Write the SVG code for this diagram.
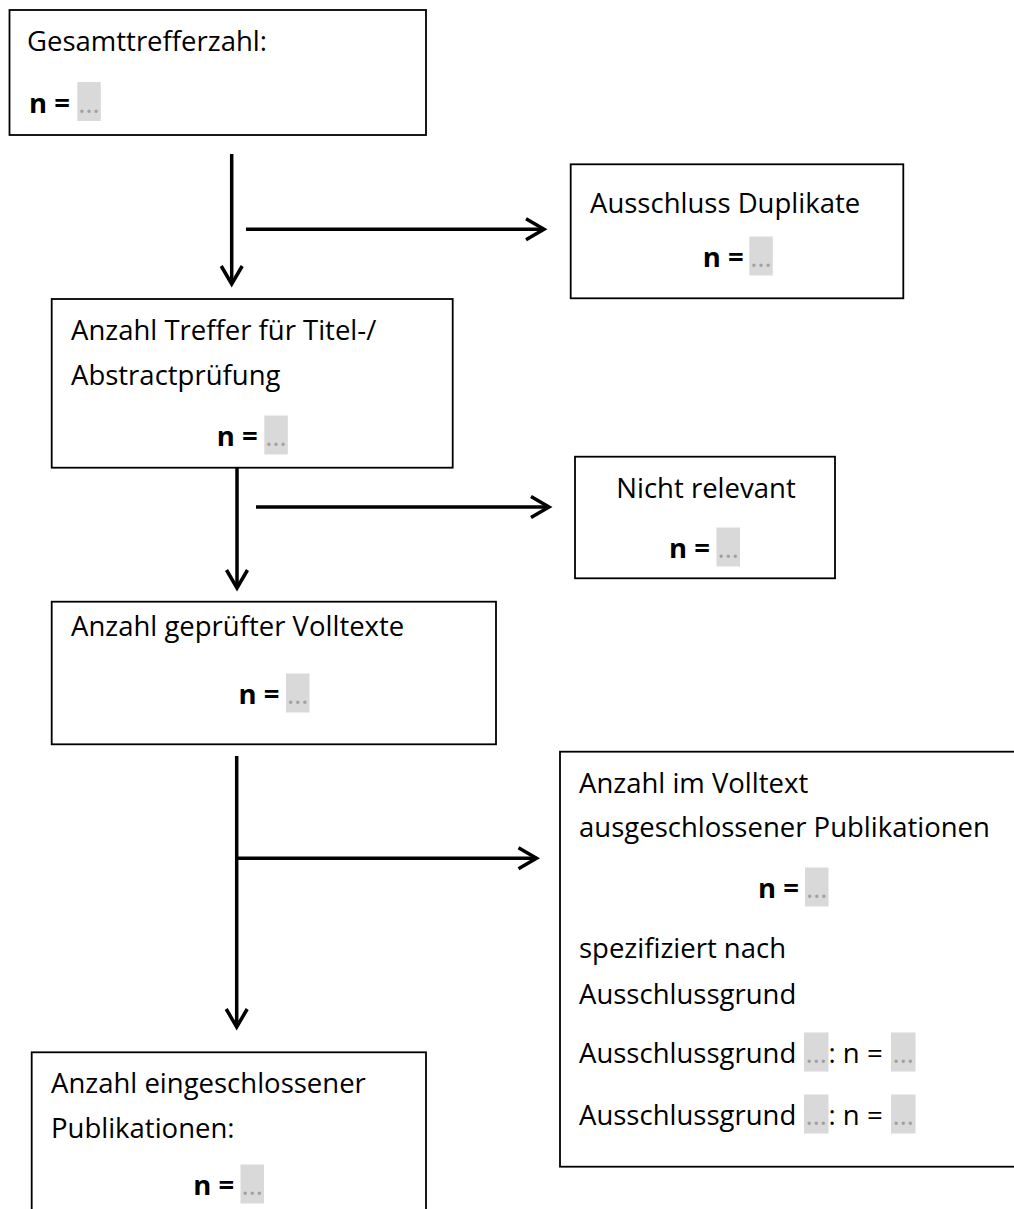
<svg xmlns="http://www.w3.org/2000/svg" width="1014" height="1209" viewBox="0 0 1014 1209">
  <style>
    .box { fill: #ffffff; stroke: #000000; stroke-width: 1.8; }
    .t { font-family: "Open Sans", "Liberation Sans", sans-serif; font-size: 27.5px; fill: #000000; }
    .b { font-weight: bold; }
    .ph { fill: #d9d9d9; }
    .dots { font-family: "Open Sans", "Liberation Sans", sans-serif; font-size: 27.5px; fill: #a0a0a0; text-anchor: middle; }
    .c { text-anchor: middle; }
    .conn line { stroke: #000000; stroke-width: 3.5; fill: none; }
  </style>
  <defs>
    <marker id="ah" markerUnits="userSpaceOnUse" markerWidth="40" markerHeight="40" viewBox="-25 -20 40 40" refX="0" refY="0" orient="auto" overflow="visible">
      <path d="M-18,-10.5 L0,0 L-18,10.5" fill="none" stroke="#000000" stroke-width="3.5" stroke-linejoin="miter"/>
    </marker>
  </defs>

  <rect width="1014" height="1209" fill="#ffffff"/>

  <g id="node-gesamt">
    <rect class="box" x="9.5" y="10" width="416.5" height="125"/>
    <text class="t" x="27" y="51">Gesamttrefferzahl:</text>
    <text class="t b" x="29" y="113">n =</text>
    <rect class="ph" x="77.3" y="82" width="23.5" height="39"/>
    <text class="dots" x="89" y="113">…</text>
  </g>

  <g id="node-duplikate">
    <rect class="box" x="570.7" y="164.3" width="332.6" height="134"/>
    <text class="t" x="590" y="213">Ausschluss Duplikate</text>
    <text class="t b" x="702.7" y="267">n =</text>
    <rect class="ph" x="749.3" y="236.5" width="23.5" height="39"/>
    <text class="dots" x="761" y="267">…</text>
  </g>

  <g id="node-titel">
    <rect class="box" x="51.7" y="299" width="401" height="168.7"/>
    <text class="t" x="71" y="340">Anzahl Treffer für Titel-/</text>
    <text class="t" x="71" y="385">Abstractprüfung</text>
    <text class="t b" x="216.7" y="446">n =</text>
    <rect class="ph" x="264.3" y="415.5" width="23.5" height="39"/>
    <text class="dots" x="276" y="446">…</text>
  </g>

  <g id="node-nicht-relevant">
    <rect class="box" x="575" y="456.7" width="260" height="121.6"/>
    <text class="t c" x="706" y="498">Nicht relevant</text>
    <text class="t b" x="669" y="558">n =</text>
    <rect class="ph" x="716.5" y="527.5" width="23.5" height="39"/>
    <text class="dots" x="728.2" y="558">…</text>
  </g>

  <g id="node-volltexte">
    <rect class="box" x="51.7" y="601.7" width="444.3" height="142.6"/>
    <text class="t" x="71" y="636">Anzahl geprüfter Volltexte</text>
    <text class="t b" x="238.5" y="704">n =</text>
    <rect class="ph" x="286" y="673.5" width="23.5" height="39"/>
    <text class="dots" x="297.7" y="704">…</text>
  </g>

  <g id="node-ausgeschlossen">
    <rect class="box" x="560" y="751.7" width="470" height="415"/>
    <text class="t" x="579" y="793">Anzahl im Volltext</text>
    <text class="t" x="579" y="837">ausgeschlossener Publikationen</text>
    <text class="t b" x="758" y="898">n =</text>
    <rect class="ph" x="805" y="867.5" width="23.5" height="39"/>
    <text class="dots" x="816.7" y="898">…</text>
    <text class="t" x="579" y="958">spezifiziert nach</text>
    <text class="t" x="579" y="1004">Ausschlussgrund</text>
    <text class="t" x="579" y="1063">Ausschlussgrund</text>
    <rect class="ph" x="804" y="1032.5" width="24.5" height="39"/>
    <text class="dots" x="816.2" y="1063">…</text>
    <text class="t" x="828.5" y="1063">: n =</text>
    <rect class="ph" x="891" y="1032.5" width="24.5" height="39"/>
    <text class="dots" x="903.2" y="1063">…</text>
    <text class="t" x="579" y="1125">Ausschlussgrund</text>
    <rect class="ph" x="804" y="1094.5" width="24.5" height="39"/>
    <text class="dots" x="816.2" y="1125">…</text>
    <text class="t" x="828.5" y="1125">: n =</text>
    <rect class="ph" x="891" y="1094.5" width="24.5" height="39"/>
    <text class="dots" x="903.2" y="1125">…</text>
  </g>

  <g id="node-eingeschlossen">
    <rect class="box" x="31.7" y="1052.3" width="394.3" height="200"/>
    <text class="t" x="51" y="1093">Anzahl eingeschlossener</text>
    <text class="t" x="51" y="1138">Publikationen:</text>
    <text class="t b" x="193.3" y="1195">n =</text>
    <rect class="ph" x="240.5" y="1164.5" width="23.5" height="39"/>
    <text class="dots" x="252.2" y="1195">…</text>
  </g>

  <g id="connectors" class="conn">
    <line x1="231.7" y1="154" x2="231.7" y2="284" marker-end="url(#ah)"/>
    <line x1="246" y1="229.3" x2="544" y2="229.3" marker-end="url(#ah)"/>
    <line x1="237" y1="467.7" x2="237" y2="588" marker-end="url(#ah)"/>
    <line x1="256" y1="507" x2="549" y2="507" marker-end="url(#ah)"/>
    <line x1="236.7" y1="756" x2="236.7" y2="1027" marker-end="url(#ah)"/>
    <line x1="236.7" y1="858.3" x2="536.5" y2="858.3" marker-end="url(#ah)"/>
  </g>
</svg>
